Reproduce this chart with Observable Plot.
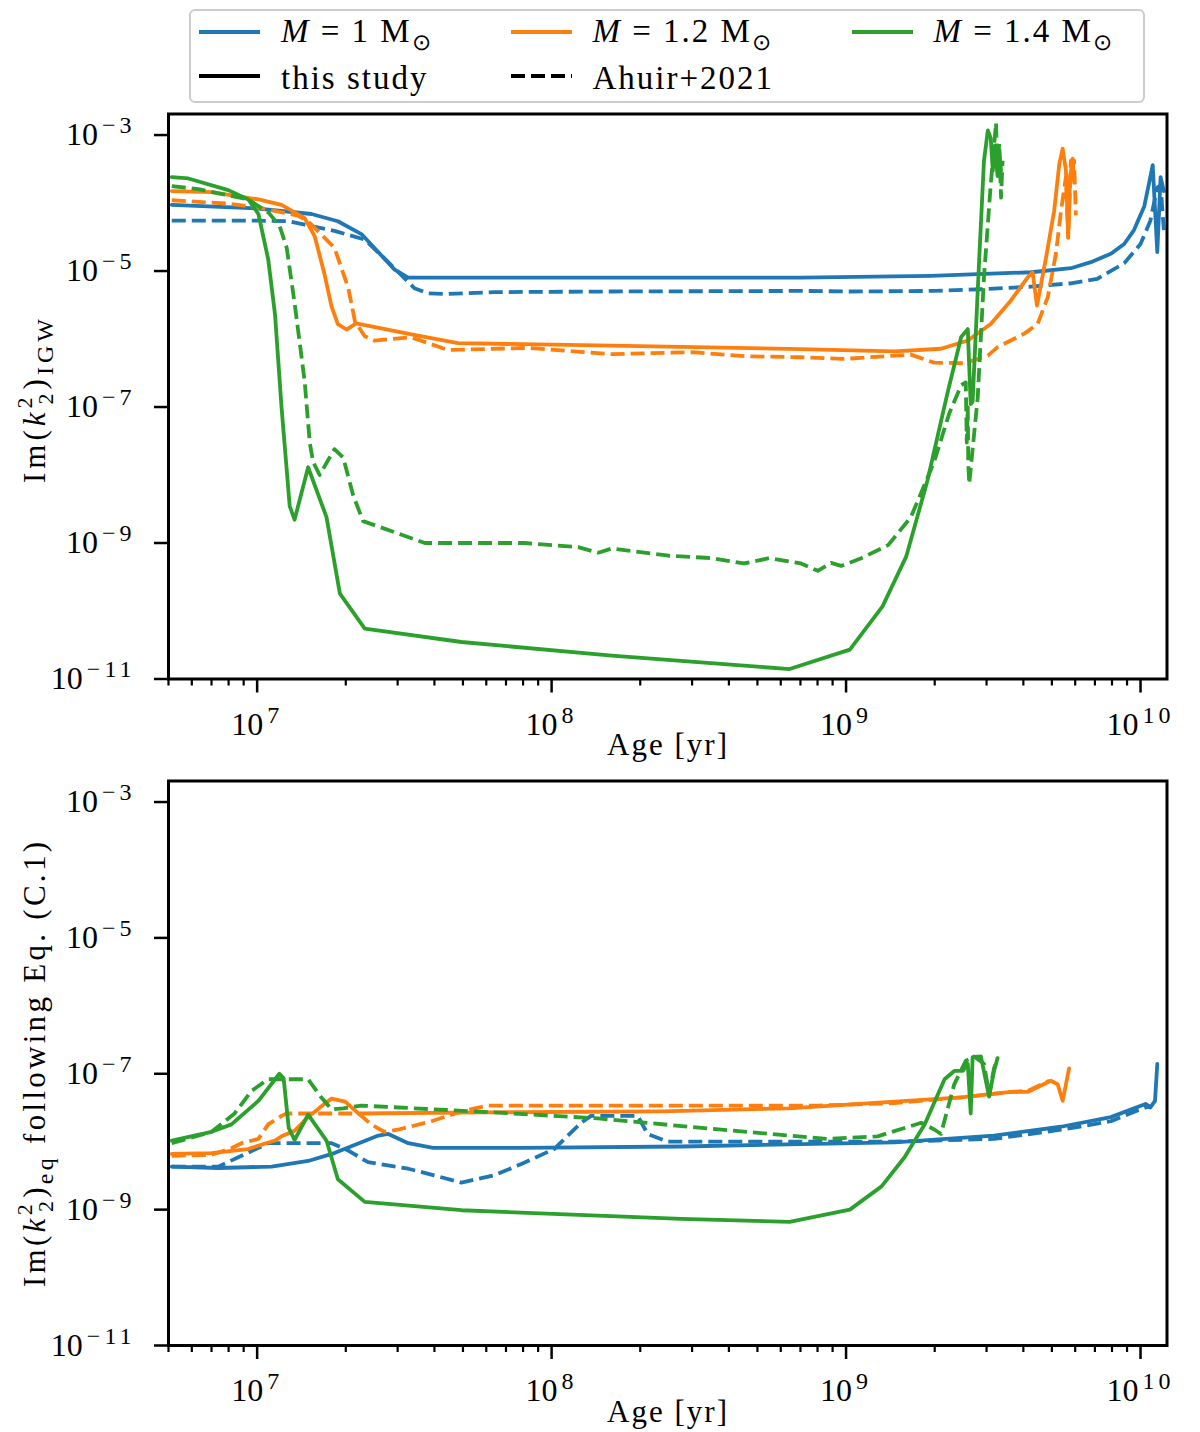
<!DOCTYPE html>
<html>
<head>
<meta charset="utf-8">
<script src="https://cdn.jsdelivr.net/npm/d3@7"></script>
<script src="https://cdn.jsdelivr.net/npm/@observablehq/plot@0.6"></script>
<style>
  body { margin: 0; background: #fff; font-family: "Liberation Serif", serif; }
  #page { position: relative; width: 1200px; height: 1432px; }
  #legend { position: absolute; left: 189px; top: 9px; width: 952px; height: 90px;
            border: 2.5px solid #cccccc; border-radius: 6px; background: #fff;
            font-size: 33px; letter-spacing: 2px; }
  .item { position: absolute; height: 40px; display: flex; align-items: center; white-space: nowrap; }
  .item svg { margin-right: 21px; }
  .item span { position: relative; top: 3px; }
  .item sub { font-size: 23px; letter-spacing: 0; }
  #charts svg { display: block; }
</style>
</head>
<body>
<div id="page">
  <div id="charts"></div>
  <div id="legend"></div>
</div>
<script>
// masses and colours (tab10)
const masses = [1, 1.2, 1.4]
const colours = ["#1f77b4", "#ff7f0e", "#2ca02c"]
const sources = ["this study", "Ahuir+2021"]

// ---- top panel : Im(k2^2)_IGW, [age (yr), value] ----
const igw_m10_this = [[5.13e6, 9.4e-5], [1.01e7, 8.3e-5], [1.53e7, 6.9e-5], [1.88e7, 5.4e-5], [2.26e7, 3.5e-5],
  [2.93e7, 1.05e-5], [3.26e7, 8e-6], [7.03e8, 8e-6], [1.94e9, 8.5e-6], [4.25e9, 9.6e-6], [5.8e9, 1.1e-5],
  [6.78e9, 1.35e-5], [7.93e9, 1.8e-5], [8.8e9, 2.5e-5], [9.5e9, 4e-5], [1.03e10, 9e-5], [1.07e10, 2e-4],
  [1.1e10, 3.6e-4], [1.14e10, 1.9e-5], [1.17e10, 2.4e-4], [1.2e10, 1.5e-4]]
const igw_m10_ahuir = [[5.13e6, 5.5e-5], [1.01e7, 5.5e-5], [1.28e7, 5.4e-5], [1.45e7, 4.8e-5], [1.83e7, 3.9e-5],
  [2.32e7, 2.9e-5], [2.79e7, 1.35e-5], [3.42e7, 5.6e-6], [3.81e7, 4.7e-6], [4.33e7, 4.6e-6], [6.39e7, 4.9e-6],
  [1.6e8, 5e-6], [7.03e8, 5.1e-6], [1.04e9, 5e-6], [1.99e9, 5.1e-6], [2.87e9, 5.4e-6], [4.25e9, 5.9e-6],
  [5.8e9, 6.6e-6], [7.14e9, 7.7e-6], [8.8e9, 1.3e-5], [1e10, 2.5e-5], [1.08e10, 5.5e-5], [1.14e10, 1.7e-4],
  [1.17e10, 1.8e-4], [1.2e10, 4e-5]]
const igw_m12_this = [[5.13e6, 1.5e-4], [7e6, 1.45e-4], [1.01e7, 1.13e-4], [1.21e7, 9.4e-5], [1.45e7, 6e-5],
  [1.57e7, 3.2e-5], [1.69e7, 9.3e-6], [1.79e7, 3e-6], [1.88e7, 1.66e-6], [2.01e7, 1.38e-6], [2.17e7, 1.7e-6],
  [3.34e7, 1.17e-6], [4.81e7, 8.7e-7], [1.6e8, 8e-7], [7.03e8, 7.1e-7], [1.46e9, 6.6e-7], [2.1e9, 7.2e-7],
  [2.59e9, 9.5e-7], [3.1e9, 1.66e-6], [3.63e9, 3.7e-6], [4.14e9, 8.1e-6], [4.3e9, 9.6e-6], [4.45e9, 3.1e-6],
  [4.78e9, 1.6e-5], [5.09e9, 7.7e-5], [5.3e9, 3.8e-4], [5.44e9, 6.3e-4], [5.58e9, 3e-4], [5.68e9, 3.1e-5],
  [5.77e9, 2.4e-4], [5.88e9, 4.5e-4], [5.95e9, 2e-4]]
const igw_m12_ahuir = [[5.13e6, 1.1e-4], [7.98e6, 9.8e-5], [1.01e7, 8.6e-5], [1.38e7, 6.5e-5], [1.49e7, 5.4e-5],
  [1.83e7, 2.2e-5], [2.04e7, 5.6e-6], [2.15e7, 1.8e-6], [2.32e7, 1.1e-6], [2.5e7, 9.5e-7], [3.34e7, 1.06e-6],
  [4.45e7, 6.9e-7], [8.31e7, 7.4e-7], [1.6e8, 6e-7], [3e8, 6.4e-7], [4.5e8, 5.6e-7], [7.03e8, 5.4e-7],
  [9.85e8, 5.1e-7], [1.66e9, 5.9e-7], [1.99e9, 4.5e-7], [2.52e9, 4.4e-7], [3.03e9, 5.7e-7], [3.27e9, 7.6e-7],
  [4.03e9, 1.2e-6], [4.47e9, 1.66e-6], [4.84e9, 4.1e-6], [5.16e9, 1.8e-5], [5.37e9, 7.7e-5], [5.58e9, 2.4e-4],
  [5.68e9, 3.1e-5], [5.8e9, 4.2e-4], [5.95e9, 4.2e-4], [6.03e9, 6.6e-5]]
const igw_m14_this = [[5.13e6, 2.4e-4], [5.84e6, 2.3e-4], [7.98e6, 1.55e-4], [9.33e6, 1.13e-4], [1.01e7, 6.9e-5],
  [1.09e7, 1.5e-5], [1.15e7, 2.3e-6], [1.21e7, 1e-7], [1.29e7, 3.5e-9], [1.34e7, 2.2e-9], [1.49e7, 1.3e-8],
  [1.72e7, 2.4e-9], [1.91e7, 1.8e-10], [2.32e7, 5.5e-11], [4.94e7, 3.5e-11], [1.6e8, 2.2e-11], [6.43e8, 1.4e-11],
  [1.03e9, 2.7e-11], [1.33e9, 1.17e-10], [1.6e9, 6.3e-10], [1.89e9, 8.3e-9], [2.21e9, 1.6e-7], [2.46e9, 1.07e-6],
  [2.59e9, 1.4e-6], [2.65e9, 1.1e-7], [2.69e9, 1.2e-7], [2.83e9, 1.4e-5], [2.94e9, 4.2e-4], [3.03e9, 1.17e-3],
  [3.1e9, 9e-4], [3.15e9, 3e-4], [3.2e9, 7e-4], [3.27e9, 2.5e-4], [3.31e9, 6e-4], [3.36e9, 3e-4]]
const igw_m14_ahuir = [[5.13e6, 1.77e-4], [6.31e6, 1.6e-4], [7.98e6, 1.3e-4], [9.33e6, 1.13e-4], [1.09e7, 7.3e-5],
  [1.19e7, 4.7e-5], [1.26e7, 2.2e-5], [1.34e7, 3.4e-6], [1.45e7, 2.4e-7], [1.51e7, 2.9e-8], [1.55e7, 1.55e-8],
  [1.63e7, 1e-8], [1.83e7, 2.4e-8], [1.96e7, 1.8e-8], [2.12e7, 5e-9], [2.29e7, 2.1e-9], [3.71e7, 1e-9],
  [8.1e7, 1e-9], [1.23e8, 8.7e-10], [1.44e8, 7.2e-10], [1.6e8, 8.3e-10], [2.5e8, 6.5e-10], [3.5e8, 6e-10],
  [4.5e8, 5e-10], [5.5e8, 6e-10], [7.03e8, 5e-10], [8.02e8, 3.9e-10], [8.89e8, 5.1e-10], [9.62e8, 4.6e-10],
  [1.12e9, 5.9e-10], [1.39e9, 9.3e-10], [1.66e9, 2.4e-9], [1.99e9, 1.55e-8], [2.24e9, 8e-8], [2.46e9, 2.1e-7],
  [2.55e9, 2.3e-7], [2.57e9, 3e-8], [2.59e9, 1e-7], [2.6e9, 1.5e-8], [2.62e9, 7.4e-9], [2.8e9, 1.4e-7],
  [2.94e9, 8.1e-6], [3.1e9, 1.9e-4], [3.23e9, 1.5e-3], [3.27e9, 3e-4], [3.31e9, 7.5e-4], [3.36e9, 1.2e-4],
  [3.4e9, 4.2e-4]]

// ---- bottom panel : Im(k2^2)_eq following Eq. (C.1) ----
const eq_m10_this = [[5.13e6, 4.3e-9], [7.38e6, 4.1e-9], [1.12e7, 4.3e-9], [1.49e7, 5.2e-9], [1.83e7, 6.8e-9],
  [2.26e7, 9.8e-9], [2.58e7, 1.23e-8], [2.79e7, 1.3e-8], [3.26e7, 9.5e-9], [3.96e7, 8.1e-9], [7.89e7, 8.1e-9],
  [2.76e8, 8.5e-9], [1.46e9, 9.8e-9], [3.18e9, 1.23e-8], [5.37e9, 1.66e-8], [7.93e9, 2.3e-8], [1.04e10, 3.6e-8],
  [1.08e10, 3.2e-8], [1.12e10, 4e-8], [1.14e10, 1.4e-7]]
const eq_m10_ahuir = [[5.13e6, 4.3e-9], [7.38e6, 4.3e-9], [8.63e6, 5.9e-9], [1.09e7, 9.5e-9], [1.79e7, 9.5e-9],
  [2.04e7, 7.4e-9], [2.38e7, 5e-9], [3.26e7, 4e-9], [3.99e7, 3.2e-9], [4.94e7, 2.5e-9], [6.39e7, 3.2e-9],
  [7.89e7, 4.7e-9], [1.02e8, 7.8e-9], [1.26e8, 1.9e-8], [1.36e8, 2.4e-8], [1.96e8, 2.4e-8], [2.12e8, 1.3e-8],
  [2.48e8, 1e-8], [1.46e9, 1e-8], [3.18e9, 1.1e-8], [5.37e9, 1.5e-8], [7.93e9, 2e-8], [1.04e10, 3.2e-8],
  [1.08e10, 3.3e-8]]
const eq_m12_this = [[5.13e6, 6.6e-9], [7e6, 6.8e-9], [9.3e6, 7.8e-9], [1.15e7, 1.04e-8], [1.21e7, 1.2e-8],
  [1.34e7, 1.45e-8], [1.49e7, 2.3e-8], [1.69e7, 3.6e-8], [1.79e7, 4.3e-8], [1.99e7, 3.9e-8], [2.21e7, 2.6e-8],
  [6e7, 2.7e-8], [2.36e8, 2.8e-8], [6.4e8, 3.1e-8], [2.46e9, 4.5e-8], [3.63e9, 5.4e-8], [4.14e9, 5.4e-8],
  [4.96e9, 7.9e-8], [5.23e9, 7e-8], [5.44e9, 4e-8], [5.72e9, 1.2e-7]]
const eq_m12_ahuir = [[5.13e6, 6.2e-9], [7e6, 6.4e-9], [8.18e6, 8e-9], [8.85e6, 9.5e-9], [1.01e7, 1.1e-8],
  [1.09e7, 1.8e-8], [1.21e7, 2.4e-8], [1.26e7, 2.6e-8], [2.21e7, 2.6e-8], [2.44e7, 1.8e-8], [2.7e7, 1.4e-8],
  [3e7, 1.5e-8], [3.91e7, 2e-8], [4.94e7, 2.8e-8], [6.05e7, 3.4e-8], [2.36e8, 3.4e-8], [8e8, 3.4e-8],
  [1.46e9, 3.7e-8], [2.46e9, 4.5e-8], [3.63e9, 5.4e-8], [4.14e9, 5.6e-8], [4.9e9, 7.9e-8]]
const eq_m14_this = [[5.13e6, 1.04e-8], [7e6, 1.4e-8], [8.18e6, 1.8e-8], [1.01e7, 4e-8], [1.19e7, 1e-7],
  [1.23e7, 8.6e-8], [1.28e7, 1.6e-8], [1.34e7, 1.06e-8], [1.49e7, 2.5e-8], [1.72e7, 1.04e-8], [1.88e7, 2.8e-9],
  [2.32e7, 1.3e-9], [4.94e7, 9.8e-10], [2.76e8, 7.3e-10], [6.43e8, 6.6e-10], [1.03e9, 1e-9], [1.32e9, 2.2e-9],
  [1.58e9, 5.9e-9], [1.85e9, 1.8e-8], [2.16e9, 8.3e-8], [2.33e9, 1.1e-7], [2.49e9, 1.1e-7], [2.59e9, 1.4e-7],
  [2.65e9, 2.6e-8], [2.69e9, 1.75e-7], [2.87e9, 1.8e-7], [3.06e9, 4.6e-8], [3.18e9, 1.1e-7], [3.27e9, 1.7e-7]]
const eq_m14_ahuir = [[5.13e6, 9.5e-9], [7e6, 1.4e-8], [8.38e6, 2.6e-8], [9.57e6, 5.6e-8], [1.09e7, 8.3e-8],
  [1.49e7, 8.3e-8], [1.65e7, 4.5e-8], [1.79e7, 3e-8], [1.96e7, 3.1e-8], [2.26e7, 3.4e-8], [6.39e7, 2.7e-8],
  [1.44e8, 2.2e-8], [2.76e8, 1.7e-8], [8.67e8, 1.1e-8], [1.28e9, 1.2e-8], [1.8e9, 1.9e-8], [2e9, 1.5e-8],
  [2.1e9, 1.3e-8], [2.33e9, 7e-8], [2.55e9, 1.55e-7], [2.72e9, 1.8e-7], [2.94e9, 1.4e-7], [3.06e9, 5e-8],
  [3.18e9, 1.2e-7], [3.27e9, 1.7e-7]]

const xTicks = [1e7, 1e8, 1e9, 1e10]
const yTicks = [1e-3, 1e-5, 1e-7, 1e-9, 1e-11]
const xDomain = [5e6, 1.23e10]
const yDomain = [1e-11, 2.04e-3]

const igwSeries = [[igw_m10_this, igw_m10_ahuir], [igw_m12_this, igw_m12_ahuir], [igw_m14_this, igw_m14_ahuir]]
const eqSeries = [[eq_m10_this, eq_m10_ahuir], [eq_m12_this, eq_m12_ahuir], [eq_m14_this, eq_m14_ahuir]]

// minor log ticks 2..9 x 10^n inside the domain
const minorTicks = [1e6, 1e7, 1e8, 1e9].flatMap(p => [2, 3, 4, 5, 6, 7, 8, 9].map(m => m * p))
  .filter(v => v >= xDomain[0] && v <= xDomain[1])

const expo = d => String(Math.round(Math.log10(d)))

function lines(series) {
  const marks = []
  series.forEach((pair, i) => {
    pair.forEach((pts, j) => {
      const rows = pts.map(([age, k]) => ({age, k, mass: masses[i], source: sources[j]}))
      marks.push(Plot.line(rows, {
        x: "age", y: "k", stroke: "mass", strokeWidth: 3.8, clip: true,
        strokeDasharray: j === 1 ? "14,6" : null,
        strokeLinecap: j === 1 ? "butt" : "round", strokeLinejoin: "round"
      }))
    })
  })
  return marks
}

function panel(series, height, marginTop, marginBottom) {
  return Plot.plot({
    width: 1200, height, marginTop, marginBottom, marginLeft: 168, marginRight: 33.5,
    style: {fontFamily: "Liberation Serif", fontSize: "31px", background: "white", overflow: "visible"},
    x: {type: "log", domain: xDomain},
    y: {type: "log", domain: yDomain},
    color: {domain: masses, range: colours},
    marks: [
      ...lines(series),
      Plot.axisX(minorTicks, {anchor: "bottom", tickSize: 7, strokeWidth: 2.2, tickFormat: () => "", label: null}),
      Plot.axisX(xTicks, {anchor: "bottom", tickSize: 14, strokeWidth: 2.5, tickPadding: 19, tickFormat: expo, label: null}),
      Plot.axisY(yTicks, {anchor: "left", tickSize: 14, strokeWidth: 2.5, tickPadding: 19, tickFormat: expo, label: null}),
      Plot.frame({strokeWidth: 3})
    ]
  })
}

// turn exponent labels into 10 with a superscript
function superscripts(svg) {
  d3.select(svg).selectAll('g[aria-label$="tick label"] text').each(function () {
    const t = d3.select(this)
    const e = t.text()
    if (!e) return
    t.text(null).attr("font-size", 32).style("font-size", "32px")
    t.append("tspan").style("font-size", "32px").text("10")
    t.append("tspan").attr("dy", -12).attr("dx", 4).style("font-size", "24px").style("letter-spacing", "4px")
      .text(e.replace("-", "\u2212"))
  })
}

function yTitle(svg, cy, sub, extra, len) {
  const t = d3.select(svg).append("text")
    .attr("transform", `translate(45,${cy}) rotate(-90)`)
    .attr("text-anchor", "middle").style("font-size", "31px")
    .attr("textLength", len).attr("lengthAdjust", "spacing")
  t.append("tspan").text("Im(")
  t.append("tspan").attr("font-style", "italic").text("k")
  t.append("tspan").style("font-size", "22px").attr("dy", -13).text("2")
  t.append("tspan").style("font-size", "22px").attr("dx", -11).attr("dy", 21).text("2")
  t.append("tspan").attr("dy", -8).text(")")
  t.append("tspan").style("font-size", "24px").attr("dy", 8).text(sub)
  if (extra) t.append("tspan").attr("dy", -8).text("\u00a0" + extra)
}

function xTitle(svg, y) {
  d3.select(svg).append("text")
    .attr("x", 667).attr("y", y).attr("text-anchor", "middle").style("font-size", "31px")
    .attr("textLength", 120).attr("lengthAdjust", "spacing")
    .text("Age [yr]")
}

const topChart = panel(igwSeries, 772, 113.5, 93.5)
superscripts(topChart)
yTitle(topChart, 401, "IGW", null, 164)
xTitle(topChart, 755)

const bottomChart = panel(eqSeries, 660, 8.5, 87)
superscripts(bottomChart)
yTitle(bottomChart, 292.5, "eq", "following Eq. (C.1)", 445)
xTitle(bottomChart, 660 - 87 + 76.5)

d3.select("#charts").append(() => topChart)
d3.select("#charts").append(() => bottomChart)

// legend: colours for masses, line style for sources
const legend = d3.select("#legend")
const swatch = (colour, dashed) =>
  `<svg width="61" height="10"><line x1="0" x2="61" y1="5" y2="5" stroke="${colour}" stroke-width="3.8"` +
  (dashed ? ` stroke-dasharray="14,6"` : "") + `/></svg>`
const cols = [8, 319.5, 660.5]
masses.forEach((m, i) => {
  legend.append("div").attr("class", "item").style("left", cols[i] + "px").style("top", "0.5px")
    .html(swatch(colours[i], false) + `<span><i>M</i> = ${m} M<sub>\u2299</sub></span>`)
})
sources.forEach((s, j) => {
  legend.append("div").attr("class", "item").style("left", cols[j] + "px").style("top", "44.5px")
    .html(swatch("black", j === 1) + `<span>${s}</span>`)
})
</script>
</body>
</html>
